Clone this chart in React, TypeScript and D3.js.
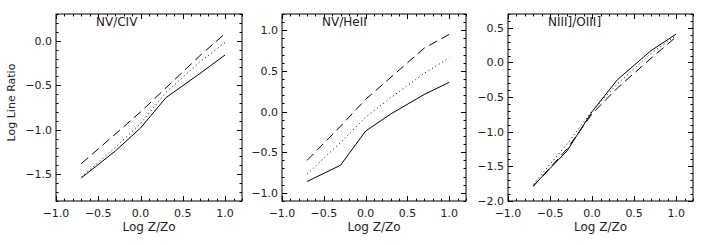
import * as d3 from 'd3';
import * as React from 'react';

const width = 708;
const height = 245;

// shared abscissa: log metallicity
const logZ = [-0.7, -0.3, 0.0, 0.3, 0.7, 1.0];
const xTickLabels = ['−1.0', '−0.5', '0.0', '0.5', '1.0'];
const xTickValues = [-1.0, -0.5, 0.0, 0.5, 1.0];

// NV/CIV
const nvCivSolid = [-1.54, -1.24, -0.98, -0.64, -0.37, -0.16];
const nvCivDotted = [-1.53, -1.2, -0.93, -0.58, -0.24, -0.02];
const nvCivDashed = [-1.38, -1.05, -0.8, -0.53, -0.17, 0.08];

// NV/HeII
const nvHeiiSolid = [-0.86, -0.66, -0.24, -0.03, 0.21, 0.36];
const nvHeiiDotted = [-0.77, -0.38, -0.07, 0.17, 0.47, 0.66];
const nvHeiiDashed = [-0.6, -0.18, 0.15, 0.42, 0.78, 0.95];

// NIII]/OIII]
const niiiOiiiSolid = [-1.78, -1.28, -0.71, -0.25, 0.17, 0.41];
const niiiOiiiDotted = [-1.76, -1.18, -0.7, -0.31, 0.13, 0.39];
const niiiOiiiDashed = [-1.79, -1.25, -0.74, -0.37, 0.06, 0.37];

const panels = [
  {
    title: 'NV/CIV',
    left: 56,
    right: 242,
    yDomain: [-1.8, 0.3],
    yTicks: [0.0, -0.5, -1.0, -1.5],
    yLabels: ['0.0', '−0.5', '−1.0', '−1.5'],
    series: [nvCivSolid, nvCivDotted, nvCivDashed],
  },
  {
    title: 'NV/HeII',
    left: 282,
    right: 466,
    yDomain: [-1.1, 1.2],
    yTicks: [1.0, 0.5, 0.0, -0.5, -1.0],
    yLabels: ['1.0', '0.5', '0.0', '−0.5', '−1.0'],
    series: [nvHeiiSolid, nvHeiiDotted, nvHeiiDashed],
  },
  {
    title: 'NIII]/OIII]',
    left: 508,
    right: 693,
    yDomain: [-2.0, 0.7],
    yTicks: [0.5, 0.0, -0.5, -1.0, -1.5, -2.0],
    yLabels: ['0.5', '0.0', '−0.5', '−1.0', '−1.5', '−2.0'],
    series: [niiiOiiiSolid, niiiOiiiDotted, niiiOiiiDashed],
  },
];

const styles = [
  { dash: null },
  { dash: '1,3' },
  { dash: '9,5' },
];

const top = 14;
const bottom = 201;
const font = 'DejaVu Sans, sans-serif';

function tenths(lo: number, hi: number) {
  const out: { v: number; major: boolean }[] = [];
  for (let i = Math.ceil(lo * 10 - 1e-6); i <= Math.floor(hi * 10 + 1e-6); i++) {
    out.push({ v: i / 10, major: i % 5 === 0 });
  }
  return out;
}

const Panel = ({ p, first }: { p: (typeof panels)[number]; first: boolean }) => {
  const x = d3.scaleLinear().domain([-1.0, 1.2]).range([p.left, p.right]);
  const y = d3.scaleLinear().domain(p.yDomain).range([bottom, top]);
  const line = d3
    .line<number>()
    .x((_, i) => x(logZ[i]))
    .y(d => y(d));

  const xt = tenths(-1.0, 1.2);
  const yt = tenths(p.yDomain[0], p.yDomain[1]);

  return (
    <g>
      {p.series.map((s, i) => (
        <path
          key={i}
          d={line(s) as string}
          fill="none"
          stroke="#000"
          strokeWidth={1}
          strokeDasharray={styles[i].dash ?? undefined}
        />
      ))}
      <rect
        x={p.left}
        y={top}
        width={p.right - p.left}
        height={bottom - top}
        fill="none"
        stroke="#000"
        strokeWidth={1}
      />
      {xt.map(t => {
        const len = t.major ? 5 : 2.5;
        const xx = Math.round(x(t.v)) + 0.5;
        return (
          <g key={'x' + t.v} stroke="#000" strokeWidth={1}>
            <line x1={xx} x2={xx} y1={bottom} y2={bottom - len} />
            <line x1={xx} x2={xx} y1={top} y2={top + len} />
          </g>
        );
      })}
      {yt.map(t => {
        const len = t.major ? 5 : 2.5;
        const yy = Math.round(y(t.v)) + 0.5;
        return (
          <g key={'y' + t.v} stroke="#000" strokeWidth={1}>
            <line x1={p.left} x2={p.left + len} y1={yy} y2={yy} />
            <line x1={p.right} x2={p.right - len} y1={yy} y2={yy} />
          </g>
        );
      })}
      {xTickValues.map((v, i) => (
        <text
          key={'xl' + v}
          x={x(v)}
          y={217}
          textAnchor="middle"
          fontFamily={font}
          fontSize={11}
          fill="#222"
        >
          {xTickLabels[i]}
        </text>
      ))}
      {p.yTicks.map((v, i) => (
        <text
          key={'yl' + v}
          x={p.left - 4}
          y={y(v)}
          dy="0.36em"
          textAnchor="end"
          fontFamily={font}
          fontSize={11}
          fill="#222"
        >
          {p.yLabels[i]}
        </text>
      ))}
      <text
        x={(p.left + p.right) / 2}
        y={231}
        textAnchor="middle"
        fontFamily={font}
        fontSize={12}
        fill="#222"
      >
        Log Z/Zo
      </text>
      <text x={p.left + 40} y={26} fontFamily={font} fontSize={12} fill="#222">
        {p.title}
      </text>
      {first && (
        <text
          transform={`translate(15,${(top + bottom) / 2 - 5}) rotate(-90)`}
          textAnchor="middle"
          fontFamily={font}
          fontSize={11}
          fill="#222"
        >
          Log Line Ratio
        </text>
      )}
    </g>
  );
};

export default function App() {
  return (
    <svg
      width={width}
      height={height}
      viewBox={`0 0 ${width} ${height}`}
      style={{ position: 'absolute', left: 0, top: 0, background: '#fff' }}
    >
      {panels.map((p, i) => (
        <Panel key={p.title} p={p} first={i === 0} />
      ))}
    </svg>
  );
}
